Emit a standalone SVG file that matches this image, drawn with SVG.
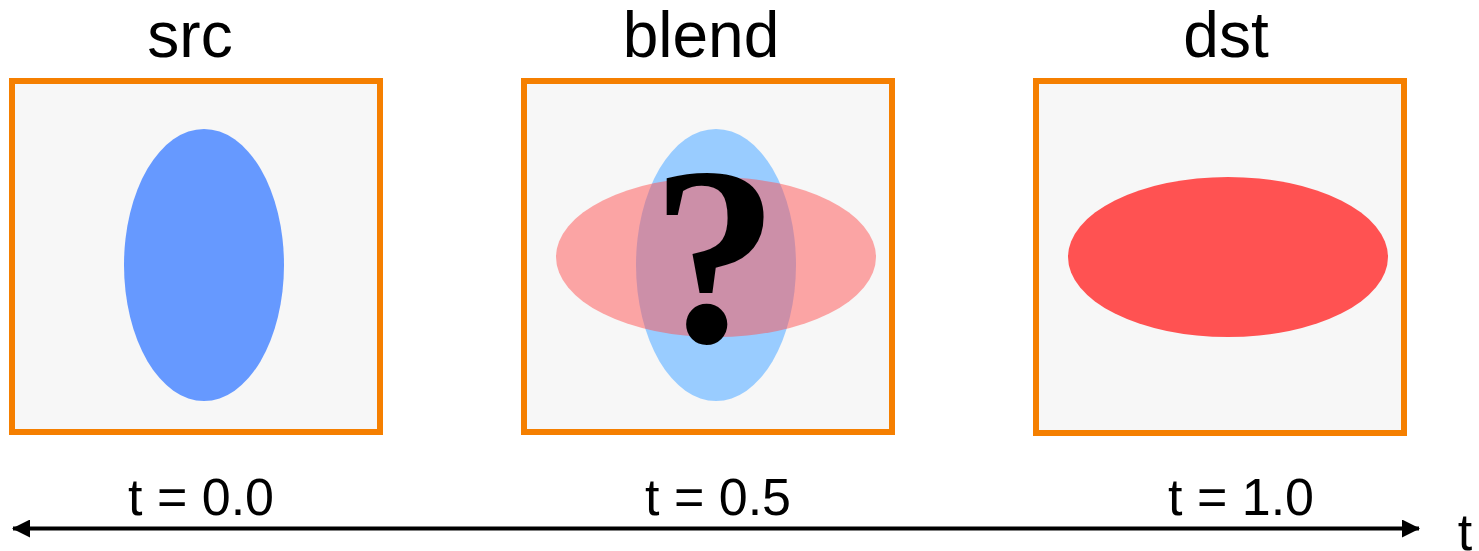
<svg xmlns="http://www.w3.org/2000/svg" width="1479" height="551" viewBox="0 0 1479 551">
<style>
.frame{fill:#f7f7f7;stroke:#f57f00;stroke-width:6}
.title{font-family:"Liberation Sans",Arial,sans-serif;font-size:64px;fill:#000;text-anchor:middle}
.tl{font-family:"Liberation Sans",Arial,sans-serif;font-size:52px;fill:#000;text-anchor:middle}
</style>
<defs>
<marker id="ah" markerWidth="18" markerHeight="18" refX="17" refY="9" orient="auto-start-reverse" markerUnits="userSpaceOnUse">
<path d="M0,0 L18,9 L0,18 Z" fill="#000"/>
</marker>
</defs>
<rect width="1479" height="551" fill="#fff"/>
<g id="src">
<text class="title" x="190" y="57">src</text>
<rect class="frame" x="12" y="81" width="368" height="351"/>
<ellipse cx="204" cy="265" rx="80" ry="136" fill="#6699ff"/>
<text class="tl" x="201" y="515">t = 0.0</text>
</g>
<g id="blend">
<text class="title" x="701" y="57">blend</text>
<rect class="frame" x="524" y="81" width="368" height="351"/>
<ellipse cx="716" cy="265" rx="80" ry="136" fill="#99ccff"/>
<ellipse cx="716" cy="257" rx="160" ry="80" fill="#ff5252" fill-opacity="0.5"/>
<text x="715" y="341" font-family="Liberation Serif,'Times New Roman',serif" font-weight="bold" font-size="255" text-anchor="middle" fill="#000">?</text>
<text class="tl" x="718" y="515">t = 0.5</text>
</g>
<g id="dst">
<text class="title" x="1226" y="57">dst</text>
<rect class="frame" x="1036" y="81" width="368" height="352"/>
<ellipse cx="1228" cy="257" rx="160" ry="80" fill="#ff5252"/>
<text class="tl" x="1241" y="515">t = 1.0</text>
</g>
<g id="connectors">
<line x1="13" y1="528.5" x2="1419" y2="528.5" stroke="#000" stroke-width="4" marker-start="url(#ah)" marker-end="url(#ah)"/>
</g>
<text class="tl" x="1465" y="550">t</text>
</svg>
